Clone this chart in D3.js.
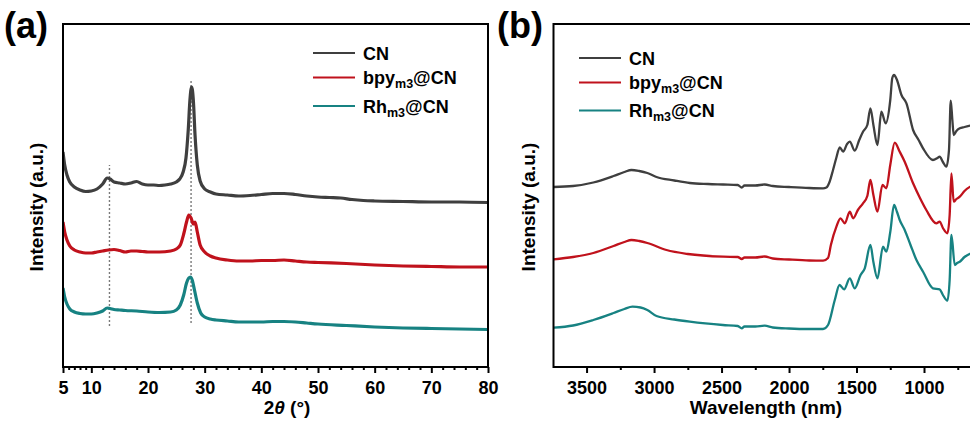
<!DOCTYPE html>
<html>
<head>
<meta charset="utf-8">
<script src="https://cdn.jsdelivr.net/npm/d3@7"></script>
<style>
  html, body { margin: 0; padding: 0; background: #fff; }
  svg { display: block; }
  text { font-family: "Liberation Sans", Arial, sans-serif; font-weight: bold; fill: #000; }
</style>
</head>
<body>
<svg id="chart" width="970" height="421"></svg>
<script>
// ---------- series names and colours ----------
const seriesNames = ["CN", "bpy", "Rh"];
const seriesColors = ["#3f3f3f", "#c0121c", "#178282"];

// ---------- (a) XRD patterns: [2θ (°), intensity (a.u., offset)] ----------
const xrdCN = [
  [5.0,215],[5.3,202],[5.7,192],[6.2,185],[7,180],[8,177],[9,175.5],[10,176],[11,178],[12,183],
  [12.8,189],[13.3,188],[14,185],[15,184],[16,183],[17,184],[18,185.5],[19,183],[20,182],[21,182],
  [22,181.5],[23,182],[24,183],[25,185],[25.6,188],[26.2,195],[26.7,209],[27.1,237],[27.4,267],
  [27.7,280],[28.0,267],[28.3,232],[28.7,202],[29.2,186],[30,178],[31,175],[32,173],[34,172],
  [36,171],[38,171.5],[40,172.5],[42,173.5],[44,173.5],[46,172.5],[48,171],[50,170],[52,169.5],
  [54,169],[56,167.5],[58,166.5],[60,166],[65,165.5],[70,165],[75,165],[80,164.5]
];
const xrdBpy = [
  [5.0,145],[5.3,135],[5.7,127],[6.2,121],[7,117],[8,115],[9,114],[10,114],[11,115],[12,116],
  [13,117],[14,117.5],[15,116.5],[16,115],[17,116],[18,116],[19,115.5],[20,115],[22,115],[24,116],
  [25,118],[25.7,122],[26.3,133],[26.8,145],[27.2,152],[27.6,149],[28.0,143],[28.3,145],[28.7,135],
  [29.2,122],[30,115],[31,111],[32,109],[34,107],[36,106],[38,106],[40,106.5],[42,106.5],[44,107],
  [46,106],[48,105],[50,104.5],[55,103.5],[60,102],[65,101],[70,100.5],[75,100],[80,100]
];
const xrdRh = [
  [5.0,79],[5.3,70],[5.7,63],[6.2,58],[7,55],[8,53.5],[9,53],[10,53],[11,54],[12,56],
  [12.8,59],[13.3,58.5],[14,57.5],[15,57],[16,56.5],[18,56],[20,55],[22,54.5],[24,55],[25,57],
  [25.7,62],[26.3,72],[26.8,84],[27.2,89],[27.5,90],[27.8,87],[28.2,77],[28.7,64],[29.3,54],
  [30,50],[31,48],[32,47],[34,46],[36,45],[38,45],[40,45],[42,45.5],[44,45.5],[46,45],[48,44],
  [50,43],[55,41.5],[60,40],[65,39],[70,38.5],[75,38],[80,37.5]
];
// reference peak positions (2θ) with the intensity span of their dotted guides
const xrdGuides = [
  [13.2, 41, 202],
  [27.6, 44, 287]
];
const xrdMajorTicks = [5, 10, 20, 30, 40, 50, 60, 70, 80];
const xrdMinorTicks = [6, 7, 8, 9, 12, 14, 16, 18, 22, 24, 26, 28, 32, 34, 36, 38, 42, 44, 46, 48,
  52, 54, 56, 58, 62, 64, 66, 68, 72, 74, 76, 78];

// ---------- (b) IR spectra: [wavenumber, intensity (a.u., offset)] ----------
const irCN = [
  [3745,180],[3600,181],[3450,184.5],[3300,191],[3220,195],[3167,197],[3110,196],[3050,194],[2982,190],[2850,186.5],
  [2735,184],[2600,183],[2488,182.5],[2380,182],[2350,179.5],[2330,181.5],[2250,181.5],[2180,182.5],
  [2120,181],[2000,180],[1850,179],[1748,178.7],[1723,179.5],[1700,185],[1674,197],[1650,209],
  [1624,219.7],[1599,215.3],[1570,223],[1550,225.3],[1513,216.3],[1480,227],[1452,235.3],[1420,242],
  [1397,258.7],[1375,242],[1345,222],[1316,255.3],[1284,243.7],[1250,267],[1235,289],[1222,292],
  [1210,290],[1200,287],[1167,272],[1130,263.7],[1081,237],[1040,227],[1007,218.7],[934,207],
  [900,209],[884,210.3],[860,205],[834,200.3],[815,217],[802,266.3],[790,247],[780,232],[760,236],
  [735,238.7],[700,240],[600,243]
];
const irBpy = [
  [3745,107.7],[3600,110],[3450,114],[3300,121],[3220,125],[3167,127],[3110,126],[3050,124],[2908,117],[2750,113],
  [2488,110.3],[2380,110],[2350,108],[2330,109.5],[2250,109.5],[2180,110.5],[2120,108.5],[2000,107.5],
  [1850,106.5],[1748,106.3],[1711,109],[1690,122],[1649,140.3],[1619,148.7],[1587,143.7],[1550,155.3],
  [1525,148.7],[1490,157],[1452,163.7],[1420,171],[1397,187],[1375,172],[1345,155.3],[1308,182],
  [1279,178.7],[1250,202],[1217,224.3],[1180,215.3],[1143,205.3],[1081,183.7],[1030,169],[983,157],
  [909,143.7],[884,145.3],[860,139],[827,133.7],[810,152],[797,193.7],[780,165.3],[760,168],
  [735,170.3],[700,176],[600,184]
];
const irRh = [
  [3745,39.3],[3600,41.5],[3450,47],[3300,54],[3220,58],[3160,60.3],[3100,59.5],[3050,57],[2982,51],[2850,47.5],
  [2735,45.3],[2490,42],[2380,41],[2350,38.7],[2330,40.5],[2250,40.5],[2180,41.3],[2120,39.5],
  [2000,38.5],[1850,38],[1748,38],[1711,42],[1661,67],[1626,82],[1592,77.7],[1550,88.7],[1513,78.7],
  [1470,92],[1439,98.7],[1397,122],[1375,105],[1345,88.7],[1304,120.3],[1279,115.3],[1250,135],
  [1222,162],[1200,155],[1180,147],[1143,137],[1100,122],[1056,107],[1007,95.3],[934,78.7],
  [884,77.7],[860,72],[827,66.3],[810,87],[797,132],[772,102],[755,104],[735,105.3],[700,110],[600,116]
];
const irMajorTicks = [3500, 3000, 2500, 2000, 1500, 1000];
const irMinorTicks = [3250, 2750, 2250, 1750, 1250, 750];

const svg = d3.select("#chart");

// Builds one framed panel: frame, bottom axis, curves, legend and titles.
function drawPanel(opt) {
  const g = svg.append("g");
  const x = opt.x, y = opt.y;
  const [x0, x1] = x.range();
  const [yb, yt] = y.range();

  const clipId = "clip-" + opt.id;
  svg.append("clipPath").attr("id", clipId)
    .append("rect").attr("x", x0).attr("y", yt).attr("width", x1 - x0).attr("height", yb - yt);

  // dotted guides
  if (opt.guides) {
    g.selectAll(".guide").data(opt.guides).enter().append("line")
      .attr("x1", d => x(d[0])).attr("x2", d => x(d[0]))
      .attr("y1", d => y(d[1])).attr("y2", d => y(d[2]))
      .attr("stroke", "#7a7a7a").attr("stroke-width", 1.4)
      .attr("stroke-dasharray", "2,2");
  }

  // curves
  const line = d3.line().x(d => x(d[0])).y(d => y(d[1])).curve(d3.curveMonotoneX);
  g.append("g").attr("clip-path", `url(#${clipId})`)
    .selectAll("path").data(opt.series).enter().append("path")
    .attr("d", d => line(d.slice().sort((a, b) => a[0] - b[0])))
    .attr("fill", "none")
    .attr("stroke", (d, i) => seriesColors[i])
    .attr("stroke-width", opt.lineWidth)
    .attr("stroke-linejoin", "round");

  // frame
  g.append("rect").attr("x", x0).attr("y", yt).attr("width", x1 - x0).attr("height", yb - yt)
    .attr("fill", "none").attr("stroke", "#000").attr("stroke-width", 2);

  // bottom axis: major ticks with labels, minor ticks without
  const axMaj = g.append("g").attr("transform", `translate(0,${yb})`)
    .call(d3.axisBottom(x).tickValues(opt.majors).tickSize(6).tickPadding(8).tickFormat(d3.format("d")));
  axMaj.select(".domain").remove();
  axMaj.selectAll(".tick line").attr("stroke", "#000").attr("stroke-width", 2);
  axMaj.selectAll(".tick text").attr("font-size", 18).attr("font-family", null).attr("fill", "#000");

  const axMin = g.append("g").attr("transform", `translate(0,${yb})`)
    .call(d3.axisBottom(x).tickValues(opt.minors).tickSize(3).tickFormat(""));
  axMin.select(".domain").remove();
  axMin.selectAll(".tick line").attr("stroke", "#000").attr("stroke-width", 2);

  // legend
  const labels = [
    { main: "CN" },
    { main: "bpy", sub: "m3", tail: "@CN" },
    { main: "Rh", sub: "m3", tail: "@CN" }
  ];
  const lg = g.append("g");
  labels.forEach((lab, i) => {
    const by = opt.legendBaselines[i];
    lg.append("line")
      .attr("x1", opt.legendX).attr("x2", opt.legendX + 42)
      .attr("y1", by - 6.5).attr("y2", by - 6.5)
      .attr("stroke", seriesColors[i]).attr("stroke-width", 2);
    const t = lg.append("text").attr("x", opt.legendX + 50).attr("y", by).attr("font-size", 18);
    t.append("tspan").text(lab.main);
    if (lab.sub) {
      t.append("tspan").attr("font-size", 12.5).attr("dy", 4).text(lab.sub);
      t.append("tspan").attr("dy", -4).text(lab.tail);
    }
  });

  // panel tag
  g.append("text").attr("x", opt.tagX).attr("y", 38).attr("font-size", 36).text(opt.tag);

  // y title
  g.append("text")
    .attr("transform", `translate(${opt.yTitleX},207) rotate(-90)`)
    .attr("text-anchor", "middle").attr("font-size", 19)
    .text("Intensity (a.u.)");

  return g;
}

// (a) XRD
const xA = d3.scaleLinear().domain([5, 80]).range([63, 488]);
const yA = d3.scaleLinear().domain([0, 343]).range([367, 24]);
const gA = drawPanel({
  id: "a", x: xA, y: yA, series: [xrdCN, xrdBpy, xrdRh],
  lineWidth: 3.2, guides: xrdGuides, majors: xrdMajorTicks, minors: xrdMinorTicks,
  legendX: 313, legendBaselines: [59.5, 84, 112.5], tag: "(a)", tagX: 4, yTitleX: 43
});
const xTitleA = gA.append("text").attr("x", 287).attr("y", 414)
  .attr("text-anchor", "middle").attr("font-size", 19);
xTitleA.append("tspan").text("2");
xTitleA.append("tspan").attr("font-style", "italic").text("θ");
xTitleA.append("tspan").text(" (°)");

// (b) IR
const xB = d3.scaleLinear().domain([3745, 600]).range([553.5, 978]);
const yB = d3.scaleLinear().domain([0, 343]).range([367, 24]);
const gB = drawPanel({
  id: "b", x: xB, y: yB, series: [irCN, irBpy, irRh],
  lineWidth: 2.3, guides: null, majors: irMajorTicks, minors: irMinorTicks,
  legendX: 579, legendBaselines: [64.5, 89, 117], tag: "(b)", tagX: 497, yTitleX: 535
});
gB.append("text").attr("x", 766).attr("y", 414)
  .attr("text-anchor", "middle").attr("font-size", 19)
  .text("Wavelength (nm)");
</script>
</body>
</html>
